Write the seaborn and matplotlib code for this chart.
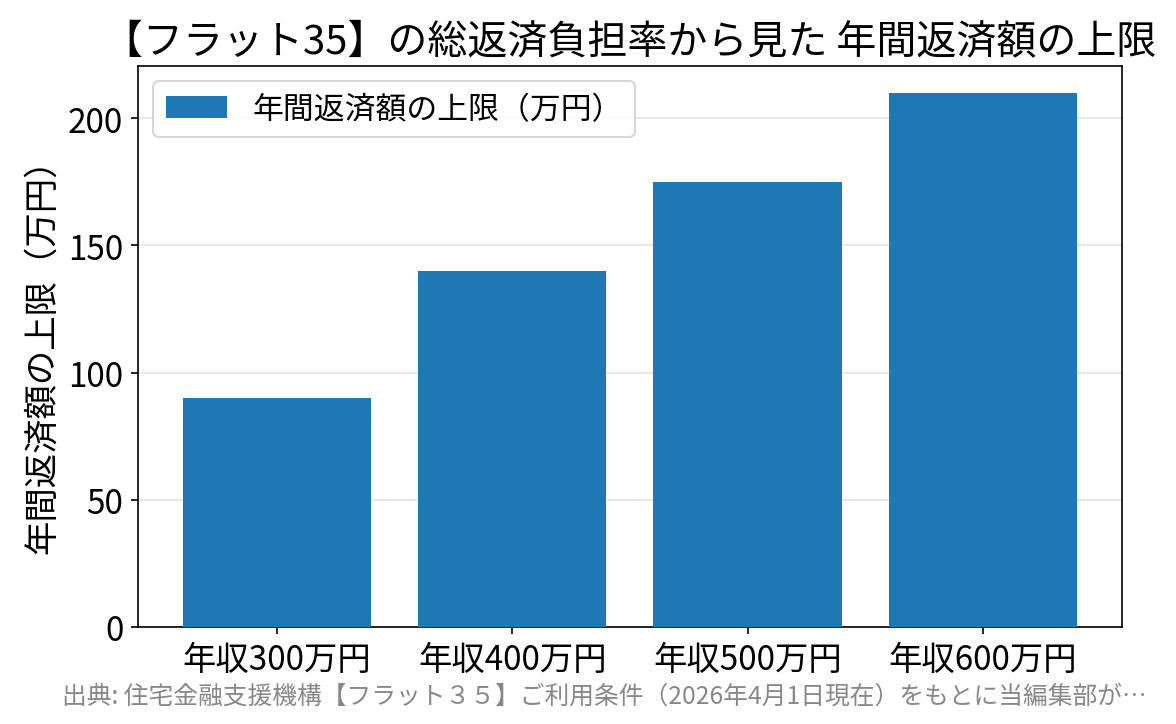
import matplotlib
matplotlib.use("Agg")
import matplotlib.pyplot as plt
from matplotlib.ticker import MultipleLocator
import seaborn as sns
import pandas as pd

categories = ["年収300万円", "年収400万円", "年収500万円", "年収600万円"]
values = [90, 140, 175, 210]
series_label = "年間返済額の上限（万円）"
title = "【フラット35】の総返済負担率から見た 年間返済額の上限"
ylabel = "年間返済額の上限（万円）"
source = "出典: 住宅金融支援機構【フラット３５】ご利用条件（2026年4月1日現在）をもとに当編集部が…"

plt.rcParams['font.family'] = ['Noto Sans CJK JP', 'DejaVu Sans']

df = pd.DataFrame({"cat": categories, "val": values})

fig, ax = plt.subplots(figsize=(7.84, 4.833), dpi=150)
fig.subplots_adjust(left=0.1173, right=0.954, top=0.9076, bottom=0.1338)
sns.barplot(data=df, x="cat", y="val", color="#1f77b4", saturation=1, width=0.8,
            label=series_label, ax=ax, zorder=3)
ax.yaxis.grid(True, color="#dddddd", linewidth=0.8, alpha=0.8, zorder=0)
ax.set_axisbelow(True)
ax.set_xlabel("")
ax.set_ylabel(ylabel, fontsize=16.5)
ax.set_title(title, fontsize=19.2)
ax.tick_params(axis='both', labelsize=16)
ax.yaxis.set_major_locator(MultipleLocator(50))
ax.set_xlim(-0.59, 3.59)
ax.set_ylim(0, 220.5)
ax.legend(loc="upper left", fontsize=14.8)
fig.text(0.0527, 0.0386, source, fontsize=11.9, color="#888888", ha="left", va="center")
fig.savefig("out.png", dpi=150)
